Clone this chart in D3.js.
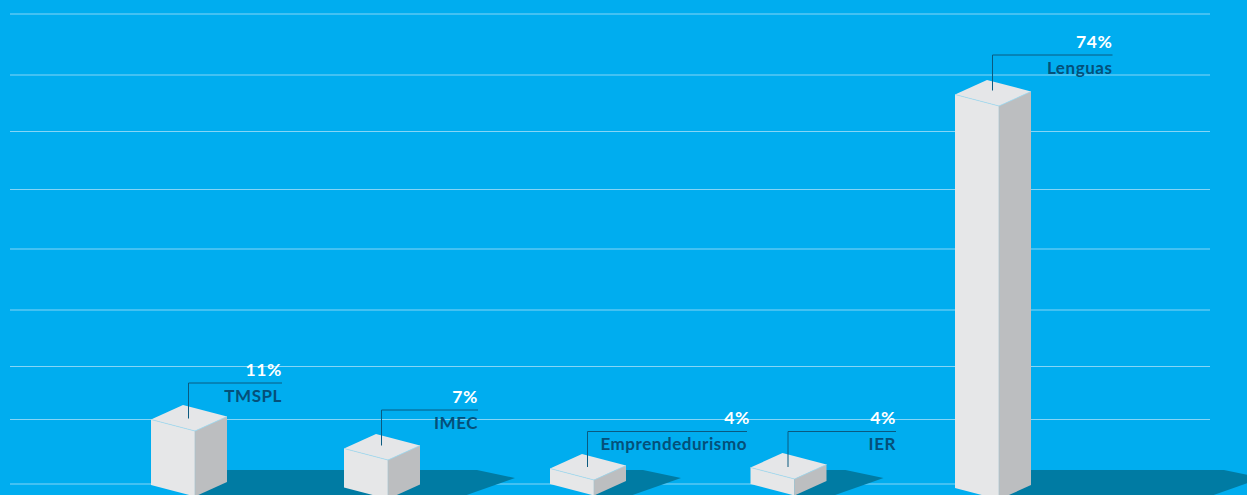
<!DOCTYPE html>
<html><head><meta charset="utf-8">
<script src="https://cdn.jsdelivr.net/npm/d3@7/dist/d3.min.js"></script>
<style>html,body{margin:0;padding:0;background:#00adef;overflow:hidden}svg{display:block}
text{font-family:Lato,sans-serif;font-weight:700;text-anchor:end}
.pct{font-size:17.5px;letter-spacing:.6px}.lab{font-size:17px;letter-spacing:.55px}</style>
</head><body><svg id="c" width="1247" height="495"></svg>
<script>
const categories = ["TMSPL","IMEC","Emprendedurismo","IER","Lenguas"];
const values = [11,7,4,4.15,74];
const gridTicks = [0,1,2,3,4,5,6,7,8];

const svg=d3.select("#c");
const barLeft=d3.scaleOrdinal(categories,[151,344,550,750.5,955]);
const barBase=d3.scaleOrdinal(categories,[485,487.5,484,484,488]);
const leaderLen=d3.scaleOrdinal(categories,[93.5,96.5,159.5,108,120]);
const leaderRise=d3.scaleOrdinal(categories,[36.5,38.5,37,36,39.5]);
// y of the front-left top corner of a bar (pictorial, non-linear scale of the source graphic)
const y=d3.scaleLinear().domain([4,7,11,74]).range([468.5,448.5,419.5,94.5]);
const shadowLen=d3.scaleLinear().domain([4,7,11,74]).range([55,95,250,231]);
const gridY=d3.scaleOrdinal(gridTicks,[484,419.5,366.5,310,249,189.5,131.5,75,14]);
const fmt=d3.format(".0f");
const fw=44, fd=11.5, sw=32, sd=14.5;

svg.append("g").selectAll("line").data(gridTicks).join("line")
  .attr("x1",10).attr("x2",1210).attr("y1",gridY).attr("y2",gridY)
  .attr("stroke","#85d5f6").attr("stroke-width",1);

const data=categories.map((c,i)=>({c,v:values[i]}));
const poly=pts=>pts.map(p=>p.join(",")).join(" ");

svg.append("g").selectAll("polygon").data(data).join("polygon")
  .attr("fill","#007ba3")
  .attr("points",d=>{const f=barLeft(d.c)+fw,r=f+sw,t=r+shadowLen(d.v);
    return poly([[f,470],[t-38,470],[t,478],[t-54,497],[f,497]]);});

const bars=svg.append("g").selectAll("g").data(data).join("g");
bars.append("polygon").attr("fill","#e6e7e8").attr("points",d=>{const x=barLeft(d.c),t=y(d.v),b=barBase(d.c);
  return poly([[x,t],[x+fw,t+fd],[x+fw,b+fd],[x,b]]);});
bars.append("polygon").attr("fill","#bcbec0").attr("points",d=>{const x=barLeft(d.c),t=y(d.v),b=barBase(d.c);
  return poly([[x+fw,t+fd],[x+fw+sw,t+fd-sd],[x+fw+sw,b+fd-sd],[x+fw,b+fd]]);});
bars.append("polygon").attr("fill","#e5e6e8").attr("points",d=>{const x=barLeft(d.c),t=y(d.v);
  return poly([[x,t],[x+sw,t-sd],[x+fw+sw,t+fd-sd],[x+fw,t+fd]]);});
bars.append("polyline").attr("fill","none").attr("stroke","#a9d9ec").attr("stroke-width",0.8)
  .attr("points",d=>{const x=barLeft(d.c),t=y(d.v);
  return poly([[x,t],[x+fw,t+fd],[x+fw+sw,t+fd-sd]]);});
bars.append("line").attr("stroke","#a8c4cf").attr("stroke-width",0.7)
  .attr("x1",d=>barLeft(d.c)+fw).attr("x2",d=>barLeft(d.c)+fw)
  .attr("y1",d=>y(d.v)+fd).attr("y2",d=>barBase(d.c)+fd);

const labs=svg.append("g").selectAll("g").data(data).join("g");
const lx=d=>barLeft(d.c)+37.5, ty=d=>y(d.v)-leaderRise(d.c);
labs.append("polyline").attr("fill","none").attr("stroke","#0a5a80").attr("stroke-width",1)
  .attr("points",d=>poly([[lx(d),ty(d)+35.5],[lx(d),ty(d)],[lx(d)+leaderLen(d.c),ty(d)]]));
labs.append("text").attr("class","pct").attr("fill","#fff")
  .attr("x",d=>lx(d)+leaderLen(d.c)+(d.c==="Emprendedurismo"?3:0))
  .attr("y",d=>ty(d)-7.5).text(d=>fmt(d.v)+"%");
labs.append("text").attr("class","lab").attr("fill","#04507a").attr("x",d=>lx(d)+leaderLen(d.c))
  .attr("y",d=>ty(d)+18.7).text(d=>d.c);
</script></body></html>
